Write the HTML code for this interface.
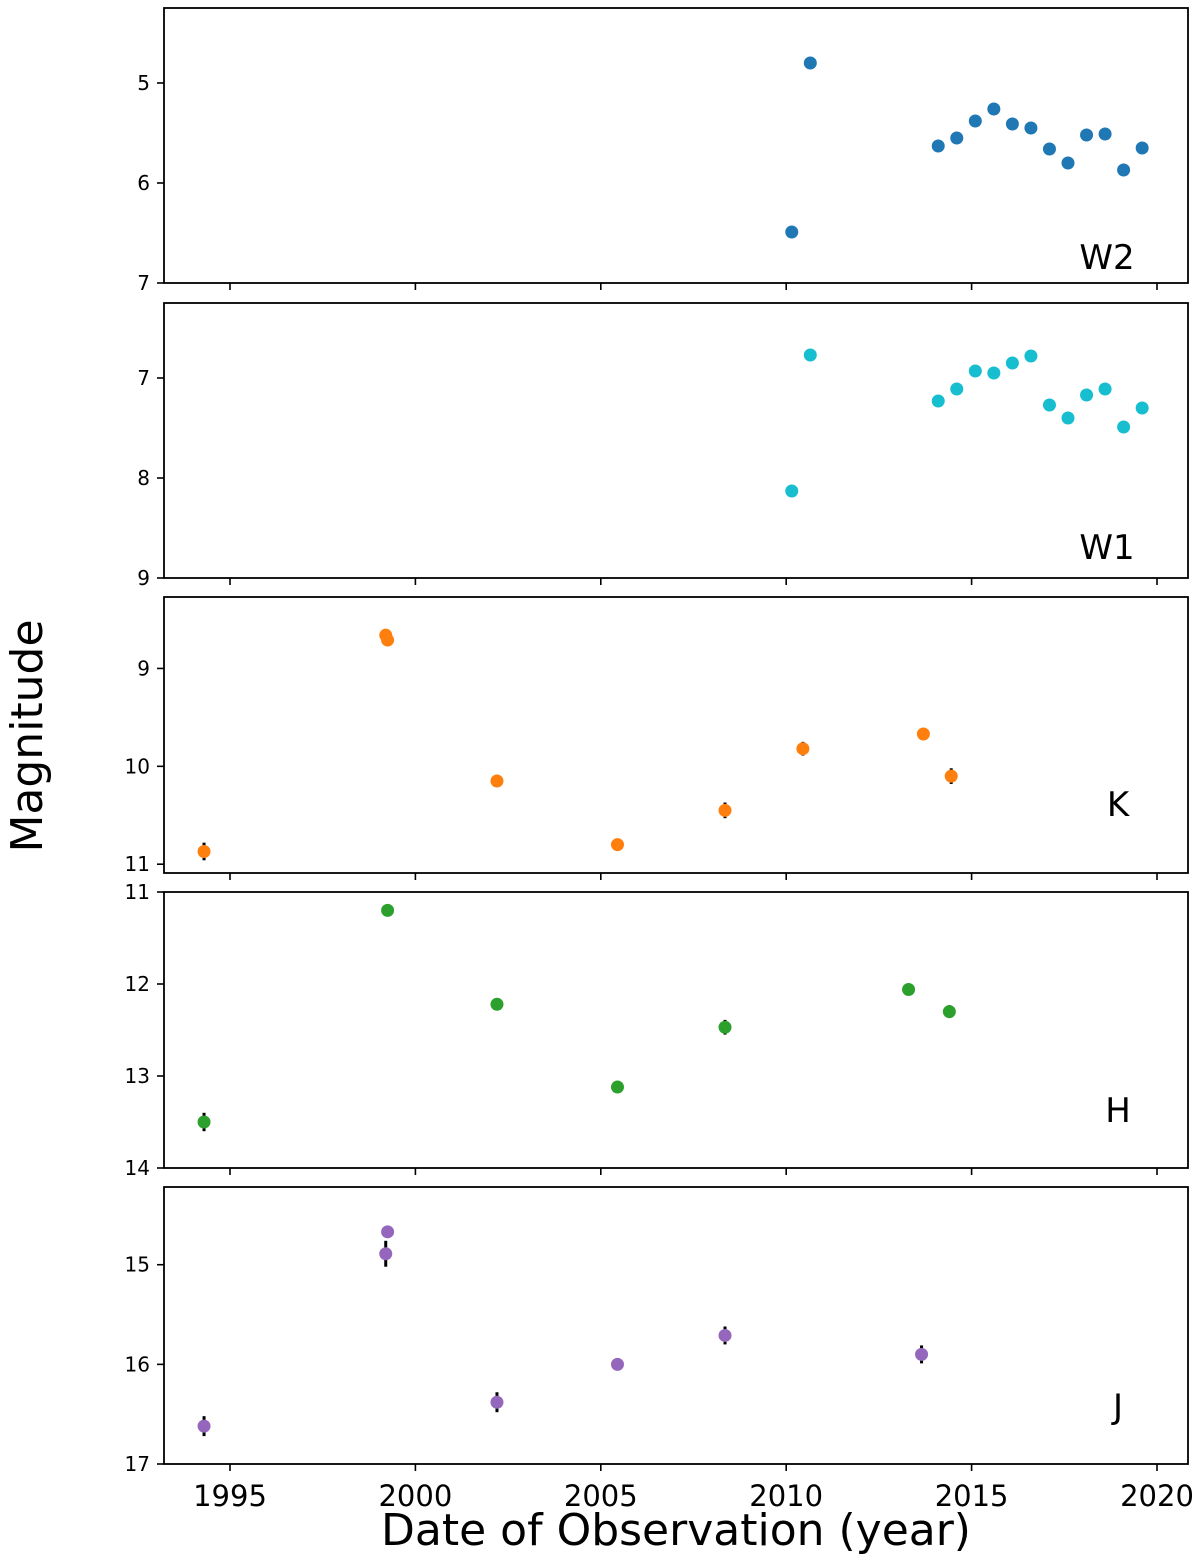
<!DOCTYPE html>
<html><head><meta charset="utf-8"><style>
body{margin:0;background:#fff;}
svg{display:block;font-family:"DejaVu Sans","Liberation Sans",sans-serif;}
</style></head><body>
<svg id="chart" width="1200" height="1564" viewBox="0 0 1200 1564" xmlns="http://www.w3.org/2000/svg"></svg>
<script>
const xTicks = [1995, 2000, 2005, 2010, 2015, 2020];
const bandNames = ["W2", "W1", "K", "H", "J"];
const bandColors = ["#1f77b4", "#17becf", "#ff7f0e", "#2ca02c", "#9467bd"];
const w2Years = [2010.15, 2010.65, 2014.1, 2014.6, 2015.1, 2015.6, 2016.1, 2016.6, 2017.1, 2017.6, 2018.1, 2018.6, 2019.1, 2019.6];
const w2Mags = [6.49, 4.8, 5.63, 5.55, 5.38, 5.26, 5.41, 5.45, 5.66, 5.8, 5.52, 5.51, 5.87, 5.65];
const w1Years = [2010.15, 2010.65, 2014.1, 2014.6, 2015.1, 2015.6, 2016.1, 2016.6, 2017.1, 2017.6, 2018.1, 2018.6, 2019.1, 2019.6];
const w1Mags = [8.13, 6.77, 7.23, 7.11, 6.93, 6.95, 6.85, 6.78, 7.27, 7.4, 7.17, 7.11, 7.49, 7.3];
const kYears = [1994.3, 1999.2, 1999.25, 2002.2, 2005.45, 2008.35, 2010.45, 2013.7, 2014.45];
const kMags = [10.87, 8.66, 8.71, 10.15, 10.8, 10.45, 9.82, 9.67, 10.1];
const kErrs = [0.09, 0, 0, 0, 0.05, 0.08, 0.07, 0, 0.08];
const hYears = [1994.3, 1999.25, 2002.2, 2005.45, 2008.35, 2013.3, 2014.4];
const hMags = [13.5, 11.2, 12.22, 13.12, 12.47, 12.06, 12.3];
const hErrs = [0.1, 0, 0, 0, 0.08, 0, 0.07];
const jYears = [1994.3, 1999.25, 1999.2, 2002.2, 2005.45, 2008.35, 2013.65];
const jMags = [16.62, 14.67, 14.89, 16.38, 16.0, 15.71, 15.9];
const jErrs = [0.1, 0, 0.13, 0.1, 0, 0.09, 0.09];
const yTicksW2 = [5, 6, 7];
const yTicksW1 = [7, 8, 9];
const yTicksK = [9, 10, 11];
const yTicksH = [11, 12, 13, 14];
const yTicksJ = [15, 16, 17];

const NS = "http://www.w3.org/2000/svg";
const svg = document.getElementById("chart");
const L = 164, R = 1188;
function x(yr){ return 230 + (yr - 1995) * (1157 - 230) / 25; }
function mk(tag, attrs, parent){ const e = document.createElementNS(NS, tag); for (const k in attrs) e.setAttribute(k, attrs[k]); (parent||svg).appendChild(e); return e; }

const panels = [
  {top:8, bot:283, ymin:4.25, ymax:7, years:w2Years, mags:w2Mags, errs:null, ticks:yTicksW2, lab:14, lx:1107},
  {top:303, bot:578, ymin:6.25, ymax:9, years:w1Years, mags:w1Mags, errs:null, ticks:yTicksW1, lab:19, lx:1107},
  {top:597, bot:873, ymin:8.27, ymax:11.09, years:kYears, mags:kMags, errs:kErrs, ticks:yTicksK, lab:57, lx:1118},
  {top:892, bot:1168, ymin:11, ymax:14, years:hYears, mags:hMags, errs:hErrs, ticks:yTicksH, lab:46, lx:1118},
  {top:1187, bot:1464, ymin:14.22, ymax:17, years:jYears, mags:jMags, errs:jErrs, ticks:yTicksJ, lab:46, lx:1118}
];

panels.forEach((p, i) => {
  const g = mk("g", {});
  
  
  const y = m => p.top + (m - p.ymin) / (p.ymax - p.ymin) * (p.bot - p.top);
  p.ticks.forEach(t => {
    const ty = y(t);
    mk("line", {x1:L-7, x2:L, y1:ty, y2:ty, stroke:"#000", "stroke-width":1.6}, g);
    const lb = mk("text", {x:L-14, y:ty+7, "text-anchor":"end", "font-size":20}, g);
    
    
    lb.textContent = t;
  });
  xTicks.forEach(t => {
    mk("line", {x1:x(t), x2:x(t), y1:p.bot, y2:p.bot+7, stroke:"#000", "stroke-width":1.6}, g);
  });
  p.years.forEach((yr, k) => {
    const cx = x(yr), cy = y(p.mags[k]);
    if (p.errs && p.errs[k] > 0) {
      const e = mk("line", {x1:cx, x2:cx, y1:y(p.mags[k]-p.errs[k]), y2:y(p.mags[k]+p.errs[k]), stroke:"#000", "stroke-width":3}, g);
      
      
    }
    const c = mk("circle", {cx:cx, cy:cy, r:6.5, fill:bandColors[i]}, g);
    
    
  });
  const fr = mk("rect", {x:L, y:p.top, width:R-L, height:p.bot-p.top, fill:"none", stroke:"#000", "stroke-width":1.8}, g);
  
  
  const bl = mk("text", {x:p.lx, y:p.bot-p.lab, "text-anchor":"middle", "font-size":34}, g);
  
  
  bl.textContent = bandNames[i];
});

xTicks.forEach(t => {
  const lb = mk("text", {x:x(t), y:1506, "text-anchor":"middle", "font-size":29});
  
  
  lb.textContent = t;
});
const xl = mk("text", {x:676, y:1545, "text-anchor":"middle", "font-size":44});


xl.textContent = "Date of Observation (year)";
const yl = mk("text", {x:0, y:0, "text-anchor":"middle", "font-size":44, transform:"translate(42,736) rotate(-90)"});


yl.textContent = "Magnitude";
</script>
</body></html>
